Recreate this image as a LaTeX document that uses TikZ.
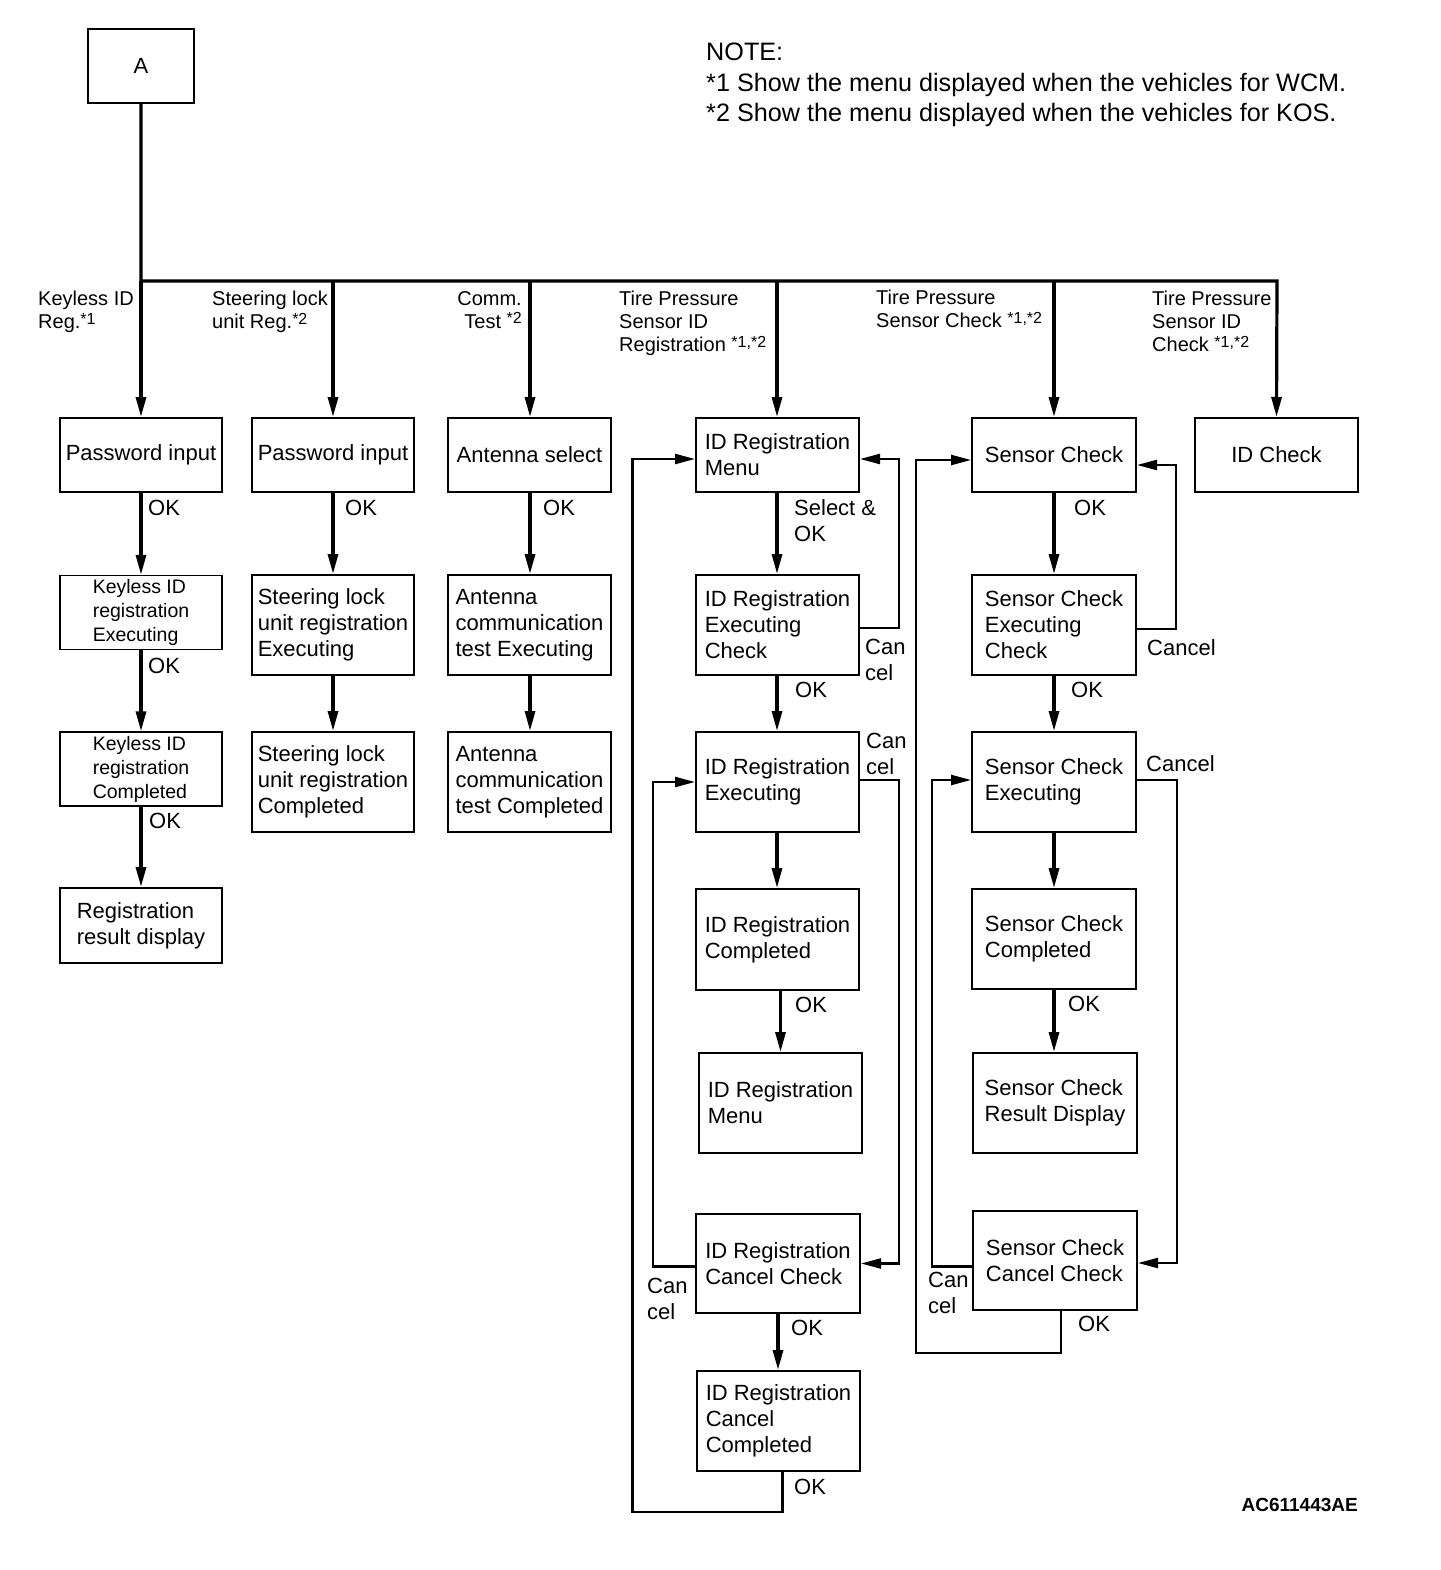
\documentclass[tikz,border=0pt]{standalone}
\usepackage{fontspec}
\setmainfont{Liberation Sans}
\usetikzlibrary{arrows.meta,calc}
\newcommand\mysup[1]{\raisebox{4.5pt}{\fontsize{16}{16}\selectfont #1}}
\begin{document}
\begin{tikzpicture}[x=1pt,y=-1pt,
  box/.style={draw, line width=2pt, inner sep=0pt, align=left, font=\fontsize{22}{26}\selectfont},
  sbox/.style={box, minimum width=163pt, minimum height=74pt},
  tbox/.style={box, minimum width=163pt, minimum height=100pt},
  thinbox/.style={draw, line width=1.3pt, inner sep=0pt, align=left, minimum width=162pt, minimum height=74pt, font=\fontsize{19.5}{24}\selectfont},
  mainline/.style={line width=3.2pt},
  main/.style={line width=3.2pt, -{Triangle[length=20pt,width=10pt]}},
  back/.style={line width=2.2pt, -{Triangle[length=20pt,width=10pt]}},
  lbl/.style={inner sep=0pt, anchor=north west, align=left, font=\fontsize{22}{26}\selectfont},
  dlbl/.style={inner sep=0pt, anchor=north west, align=left, font=\fontsize{20}{23}\selectfont},
]
\useasboundingbox (0,0) rectangle (1440,1570);

% top box and note
\node[box, minimum width=106pt, minimum height=74pt] (A) at (141,66) {A};
\node[inner sep=0pt, anchor=north west, align=left, font=\fontsize{25.2}{30.5}\selectfont] (note) at (706,43)
  {NOTE:\\*1 Show the menu displayed when the vehicles for WCM.\\*2 Show the menu displayed when the vehicles for KOS.};
\node[inner sep=0pt, anchor=base east, font=\fontsize{19}{19}\selectfont\bfseries] (code) at (1358,1511) {AC611443AE};

% bus junctions
\coordinate (j1) at (141,281);
\coordinate (j2) at (333,281);
\coordinate (j3) at (530,281);
\coordinate (j4) at (777,281);
\coordinate (j5) at (1054,281);
\coordinate (j6) at (1277,281);

% column 1
\node[box, minimum width=162pt, minimum height=74pt] (pw1) at (141,455) {Password input};
\node[thinbox] (kexe) at (141,612.5) {Keyless ID\\registration\\Executing};
\node[thinbox] (kcomp) at (141,769) {Keyless ID\\registration\\Completed};
\node[box, minimum width=162pt, minimum height=75pt] (regres) at (141,925.5) {Registration\\result display};

% column 2
\node[box, minimum width=162pt, minimum height=74pt] (pw2) at (333,455) {Password input};
\node[box, minimum width=162pt, minimum height=100pt] (slexe) at (333,625) {Steering lock\\unit registration\\Executing};
\node[box, minimum width=162pt, minimum height=100pt] (slcomp) at (333,782) {Steering lock\\unit registration\\Completed};

% column 3
\node[sbox] (antsel) at (529.5,455) {Antenna select};
\node[tbox] (antexe) at (529.5,625) {Antenna\\communication\\test Executing};
\node[tbox] (antcomp) at (529.5,782) {Antenna\\communication\\test Completed};

% column 4
\node[sbox] (idmenu) at (777.5,455) {ID Registration\\Menu};
\node[tbox] (idec) at (777.5,625) {ID Registration\\Executing\\Check};
\node[tbox] (idexe) at (777.5,782) {ID Registration\\Executing};
\node[tbox, minimum height=101pt] (idcomp) at (777.5,939.5) {ID Registration\\Completed};
\node[tbox] (idmenu2) at (780.5,1103) {ID Registration\\Menu};
\node[tbox, minimum width=164pt, minimum height=99pt] (idcc) at (778,1263.5) {ID Registration\\Cancel Check};
\node[tbox] (idccomp) at (778.5,1421) {ID Registration\\Cancel\\Completed};

% column 5
\node[sbox, minimum width=164pt] (sc) at (1054,455) {Sensor Check};
\node[tbox, minimum width=164pt] (scec) at (1054,625) {Sensor Check\\Executing\\Check};
\node[tbox, minimum width=164pt] (scexe) at (1054,782) {Sensor Check\\Executing};
\node[tbox, minimum width=164pt] (sccomp) at (1054,939) {Sensor Check\\Completed};
\node[tbox, minimum width=164pt] (scres) at (1055,1103) {Sensor Check\\Result Display};
\node[tbox, minimum width=164pt, minimum height=99pt] (sccc) at (1055,1260.5) {Sensor Check\\Cancel Check};

% column 6
\node[sbox] (idchk) at (1276.5,455) {ID Check};

% drop labels
\node[dlbl] (l1) at (38,291) {Keyless ID\\Reg.\mysup{*1}};
\node[dlbl] (l2) at (212,291) {Steering lock\\unit Reg.\mysup{*2}};
\node[dlbl, anchor=north east, align=right] (l3) at (522,291) {Comm.\\Test \mysup{*2}};
\node[dlbl] (l4) at (619,291) {Tire Pressure\\Sensor ID\\Registration \mysup{*1,*2}};
\node[dlbl] (l5) at (876,290) {Tire Pressure\\Sensor Check \mysup{*1,*2}};
\node[dlbl] (l6) at (1152,291) {Tire Pressure\\Sensor ID\\Check \mysup{*1,*2}};

% main tree
\draw[main] (A.south) -- (j1) -- (j6) -- (idchk.north);
\draw[main] (j1) -- (pw1.north);
\draw[main] (j2) -- (pw2.north);
\draw[main] (j3) -- (antsel.north -| j3);
\draw[main] (j4) -- (idmenu.north -| j4);
\draw[main] (j5) -- (sc.north);

% column 1 arrows
\draw[main] (pw1) -- (kexe);
\draw[main] (kexe) -- (kcomp);
\draw[main] (kcomp) -- (regres);
\node[lbl] (ok1) at (148,500) {OK};
\node[lbl] (ok2) at (148,658) {OK};
\node[lbl] (ok3) at (149,813) {OK};

% column 2 arrows
\draw[main] (pw2) -- (slexe);
\draw[main] (slexe) -- (slcomp);
\node[lbl] (ok4) at (345,500) {OK};

% column 3 arrows
\draw[main] (antsel.south -| j3) -- (antexe.north -| j3);
\draw[main] (antexe.south -| j3) -- (antcomp.north -| j3);
\node[lbl] (ok5) at (543,500) {OK};

% column 4 arrows
\draw[main] (idmenu.south -| j4) -- (idec.north -| j4);
\draw[main] (idec.south -| j4) -- (idexe.north -| j4);
\draw[main] (idexe.south -| j4) -- (idcomp.north -| j4);
\draw[main] (idmenu2.north |- idcomp.south) -- (idmenu2.north);
\draw[main] (idcc.south) -- (idccomp.north -| idcc.south);
\node[lbl] (sel) at (794,499) {Select \&\\OK};
\node[lbl] (ok6) at (795,682) {OK};
\node[lbl] (ok7) at (795,997) {OK};
\node[lbl] (ok8) at (791,1320) {OK};
\node[lbl] (ok9) at (794,1479) {OK};

% column 4 loops
\draw[back] ($(idec.east)+(0,3)$) -- ++(39,0) |- ($(idmenu.east)+(0,4)$);
\draw[back] ($(idexe.east)+(0,-2)$) -- ++(39,0) |- (idcc.east);
\draw[back] ($(idcc.west)+(0,3)$) -- ++(-42,0) |- (idexe.west);
\draw[back] ($(idccomp.south)+(4,0)$) -- ++(0,40) -- ++(-150,0) |- ($(idmenu.west)+(0,4)$);
\node[lbl] (c1) at (865,639) {Can\\cel};
\node[lbl] (c2) at (866,733) {Can\\cel};
\node[lbl] (c3) at (647,1278) {Can\\cel};

% column 5 arrows
\draw[main] (sc) -- (scec);
\draw[main] (scec) -- (scexe);
\draw[main] (scexe) -- (sccomp);
\draw[main] (sccomp.south) -- (scres.north -| sccomp.south);
\node[lbl] (ok10) at (1074,500) {OK};
\node[lbl] (ok11) at (1071,682) {OK};
\node[lbl] (ok12) at (1068,996) {OK};
\node[lbl] (ok13) at (1078,1316) {OK};

% column 5 loops
\draw[back] ($(scec.east)+(0,4)$) -- ++(39,0) |- ($(sc.east)+(0,10)$);
\draw[back] ($(scexe.east)+(0,-2)$) -- ++(40,0) |- ($(sccc.east)+(0,2.5)$);
\draw[back] ($(sccc.west)+(0,6)$) -- ++(-40,0) |- ($(scexe.west)+(0,-2)$);
\draw[back] ($(sccc.south)+(6,0)$) -- ++(0,42) -- ++(-145,0) |- ($(sc.west)+(0,5)$);
\node[lbl] (c4) at (1147,639) {Cancel};
\node[lbl] (c5) at (1146,755) {Cancel};
\node[lbl] (c6) at (928,1272) {Can\\cel};
\end{tikzpicture}
\end{document}
